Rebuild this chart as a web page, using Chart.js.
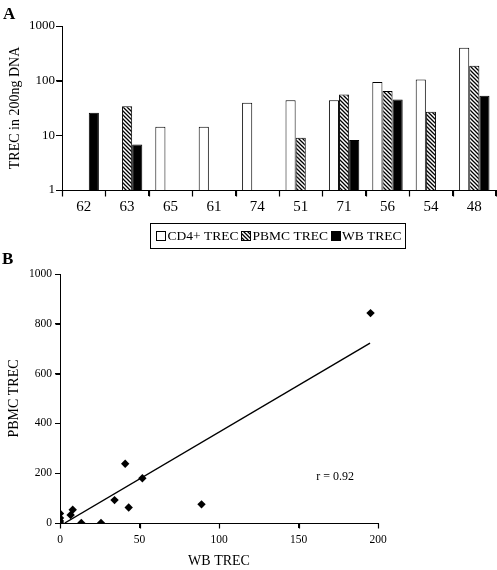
<!DOCTYPE html>
<html>
<head>
<meta charset="utf-8">
<script src="https://cdn.jsdelivr.net/npm/chart.js@4.4.1/dist/chart.umd.min.js"></script>
<style>
  html, body { margin: 0; padding: 0; background: #fff; }
  #wrap { position: relative; width: 497px; height: 570px; background: #fff; }
  canvas { position: absolute; left: 0; }
  .panel { position: absolute; font-family: "Liberation Serif", serif; font-weight: bold; font-size: 17px; color: #000; }
</style>
</head>
<body>
<div id="wrap">
  <canvas id="cA" width="497" height="252" style="top:0px"></canvas>
  <canvas id="cB" width="497" height="318" style="top:252px"></canvas>
  <div class="panel" style="left:3px; top:4px;">A</div>
  <div class="panel" style="left:2px; top:249px;">B</div>
</div>
<script>
// ---------- Panel A data ----------
const patients = ["62", "63", "65", "61", "74", "51", "71", "56", "54", "48"];
const cd4Trec  = [null, null, 14.4, 14.4, 39.5, 44, 44, 95, 105, 400];
const pbmcTrec = [null, 34, null, null, null, 9, 56, 65, 27, 187];
const wbTrec   = [26, 6.8, null, null, null, null, 8.2, 45, null, 53];
const logTicksA = [1, 10, 100, 1000];

// ---------- Panel B data ----------
const wbX   = [0, 0, 0, 0, 6.7, 8, 13.4, 25.8, 34.3, 41, 43.2, 51.8, 89, 195.3];
const pbmcY = [0, 8, 20, 38, 32, 53, 0, 0, 92, 238, 62, 180, 75, 843];
const fitX  = [3, 195];
const fitY  = [0, 722];
const rLabel = "r = 0.92";
const rPos  = [173, 185];

const SERIF = '"Liberation Serif", "Times New Roman", serif';

function hatchPattern() {
  const c = document.createElement('canvas');
  c.width = 4; c.height = 4;
  const x = c.getContext('2d');
  x.fillStyle = '#fff'; x.fillRect(0, 0, 4, 4);
  x.strokeStyle = '#000'; x.lineWidth = 1.3;
  x.beginPath();
  x.moveTo(-1, -1); x.lineTo(5, 5);
  x.moveTo(-1, 3); x.lineTo(1, 5);
  x.moveTo(3, -1); x.lineTo(5, 1);
  x.stroke();
  return x.createPattern(c, 'repeat');
}
const hatch = hatchPattern();

// Tick marks drawn from the library's own scales (outside the plot area)
const tickMarksPlugin = {
  id: 'tickMarks',
  afterDraw(chart, args, opts) {
    const ctx = chart.ctx;
    const area = chart.chartArea;
    ctx.save();
    ctx.strokeStyle = '#000'; ctx.lineWidth = 1.2;
    ctx.beginPath();
    const xs = chart.scales.x, ys = chart.scales.y;
    const len = (opts && opts.len) || 5;
    const yb = Math.round(area.bottom) + 0.5;
    const xl = Math.round(area.left) + 0.5;
    if (xs.type === 'category') {
      const n = xs.getLabels().length;
      for (let i = 0; i <= n; i++) {
        const px = Math.round(xs.getPixelForValue(i - 0.5)) + 0.5;
        ctx.moveTo(px, yb); ctx.lineTo(px, yb + len);
      }
    } else {
      xs.ticks.forEach(t => {
        const px = Math.round(xs.getPixelForValue(t.value)) + 0.5;
        ctx.moveTo(px, yb); ctx.lineTo(px, yb + len);
      });
    }
    ys.ticks.forEach(t => {
      const py = Math.round(ys.getPixelForValue(t.value)) + 0.5;
      ctx.moveTo(xl - len, py); ctx.lineTo(xl, py);
    });
    ctx.stroke();
    ctx.restore();
  }
};

const legendBoxPlugin = {
  id: 'legendBox',
  afterDraw(chart) {
    const ctx = chart.ctx;
    const area = chart.chartArea;
    ctx.save();
    ctx.font = '13.5px ' + SERIF;
    const box = 9, gap = 2, sep = 3;
    const items = chart.data.datasets.map(ds => ({ text: ds.label, fill: ds.backgroundColor, w: ctx.measureText(ds.label).width }));
    let total = 0;
    items.forEach((it, i) => { total += box + gap + it.w + (i ? sep : 0); });
    const cx = (area.left + area.right) / 2;
    const cy = area.bottom + 45.5;
    ctx.strokeStyle = '#000'; ctx.lineWidth = 1;
    ctx.strokeRect(Math.round(cx - total / 2 - 6) + 0.5, Math.round(cy - 12.5) + 0.5, Math.round(total + 10), 25);
    let x = cx - total / 2;
    ctx.textBaseline = 'middle'; ctx.fillStyle = '#000';
    items.forEach((it, i) => {
      if (i) x += sep;
      ctx.fillStyle = it.fill;
      ctx.fillRect(Math.round(x) + 0.5, Math.round(cy - box / 2) + 0.5, box, box);
      ctx.strokeStyle = '#000';
      ctx.strokeRect(Math.round(x) + 0.5, Math.round(cy - box / 2) + 0.5, box, box);
      x += box + gap;
      ctx.fillStyle = '#000';
      ctx.fillText(it.text, x, cy + 1);
      x += it.w;
    });
    ctx.restore();
  }
};

new Chart(document.getElementById('cA'), {
  type: 'bar',
  data: {
    labels: patients,
    datasets: [
      { label: 'CD4+ TREC', data: cd4Trec, backgroundColor: '#ffffff', borderColor: '#000', borderWidth: 1 },
      { label: 'PBMC TREC', data: pbmcTrec, backgroundColor: hatch, borderColor: '#000', borderWidth: 1 },
      { label: 'WB TREC', data: wbTrec, backgroundColor: '#000000', borderColor: '#000', borderWidth: 1 }
    ]
  },
  options: {
    responsive: false,
    animation: false,
    datasets: { bar: { categoryPercentage: 0.7, barPercentage: 1.0 } },
    layout: { padding: { top: 26, right: 1, left: 0, bottom: 0 } },
    plugins: { legend: { display: false }, tooltip: { enabled: false }, tickMarks: { len: 6 } },
    scales: {
      x: {
        grid: { display: true, drawOnChartArea: false, offset: true, tickLength: 6, color: '#000', tickColor: '#000', lineWidth: 1 },
        border: { display: true, color: '#000', width: 1 },
        ticks: { color: '#000', font: { family: SERIF, size: 15 }, padding: 2 },
        afterFit(s) { s.height = 62; }
      },
      y: {
        type: 'logarithmic',
        min: 1, max: 1000,
        afterBuildTicks(s) { s.ticks = logTicksA.map(v => ({ value: v })); },
        grid: { display: true, drawOnChartArea: false, tickLength: 6, color: '#000', tickColor: '#000', lineWidth: 1 },
        border: { display: true, color: '#000', width: 1 },
        ticks: { color: '#000', font: { family: SERIF, size: 13 }, padding: 1, callback: v => String(v) },
        title: { display: true, text: 'TREC in 200ng DNA', color: '#000', font: { family: SERIF, size: 14 }, padding: { top: 7, bottom: 0 } },
        afterFit(s) { s.width = 62; }
      }
    }
  },
  plugins: [legendBoxPlugin, tickMarksPlugin]
});

const rTextPlugin = {
  id: 'rText',
  afterDatasetsDraw(chart) {
    const ctx = chart.ctx;
    const x = chart.scales.x.getPixelForValue(rPos[0]);
    const y = chart.scales.y.getPixelForValue(rPos[1]);
    ctx.save();
    ctx.font = '12px ' + SERIF;
    ctx.fillStyle = '#000';
    ctx.textAlign = 'center'; ctx.textBaseline = 'middle';
    ctx.fillText(rLabel, x, y);
    ctx.restore();
  }
};

new Chart(document.getElementById('cB'), {
  type: 'scatter',
  data: {
    datasets: [
      {
        label: 'PBMC vs WB', data: wbX.map((v, i) => ({ x: v, y: pbmcY[i] })),
        pointStyle: 'rectRot', pointRadius: 4.2, backgroundColor: '#000', borderColor: '#000', borderWidth: 0
      },
      {
        type: 'line', label: 'fit', data: fitX.map((v, i) => ({ x: v, y: fitY[i] })),
        borderColor: '#000', borderWidth: 1.4, pointRadius: 0, fill: false, tension: 0
      }
    ]
  },
  options: {
    responsive: false,
    animation: false,
    layout: { padding: { top: 22, right: 119, left: 0, bottom: 0 } },
    plugins: { legend: { display: false }, tooltip: { enabled: false }, tickMarks: { len: 5 } },
    scales: {
      x: {
        type: 'linear', min: 0, max: 200,
        ticks: { stepSize: 50, color: '#000', font: { family: SERIF, size: 11.5 }, padding: 5, callback: v => String(v) },
        grid: { display: true, drawOnChartArea: false, tickLength: 5, color: '#000', tickColor: '#000', lineWidth: 1 },
        border: { display: true, color: '#000', width: 1 },
        title: { display: true, text: 'WB TREC', color: '#000', font: { family: SERIF, size: 14 }, padding: { top: 0, bottom: 0 } },
        afterFit(s) { s.height = 47; }
      },
      y: {
        type: 'linear', min: 0, max: 1000,
        ticks: { stepSize: 200, color: '#000', font: { family: SERIF, size: 11.5 }, padding: 3, callback: v => String(v) },
        grid: { display: true, drawOnChartArea: false, tickLength: 5, color: '#000', tickColor: '#000', lineWidth: 1 },
        border: { display: true, color: '#000', width: 1 },
        title: { display: true, text: 'PBMC TREC', color: '#000', font: { family: SERIF, size: 14 }, padding: { top: 6, bottom: 0 } },
        afterFit(s) { s.width = 60; }
      }
    }
  },
  plugins: [rTextPlugin, tickMarksPlugin]
});
</script>
</body>
</html>
